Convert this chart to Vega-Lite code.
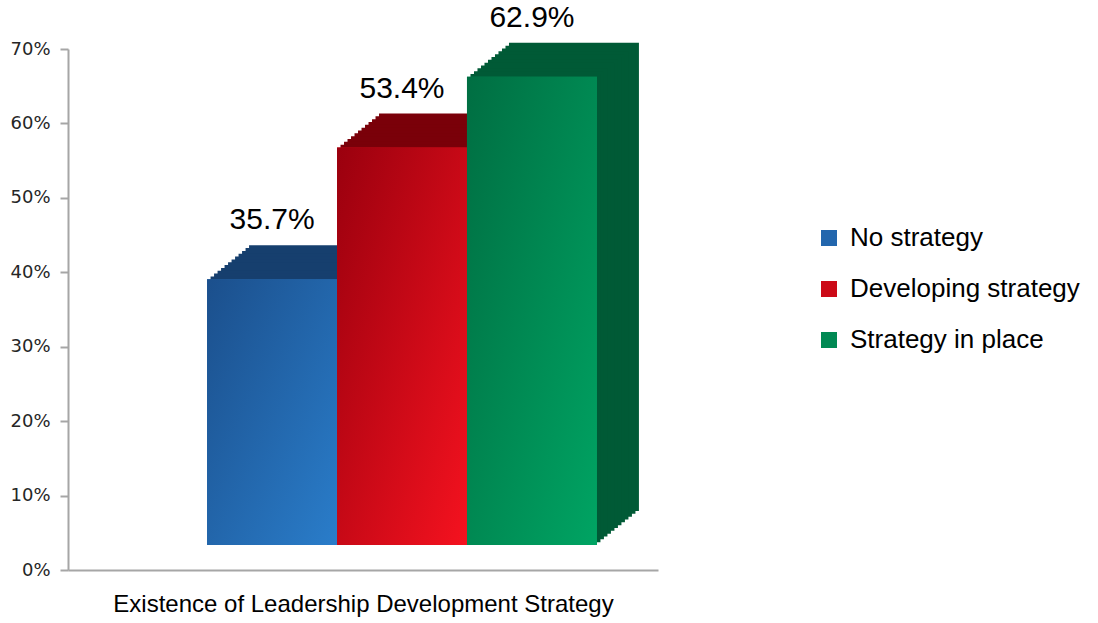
{
  "$schema": "https://vega.github.io/schema/vega-lite/v6.json",
  "autosize": "none",
  "width": 590,
  "height": 521,
  "padding": {"left": 68, "top": 49, "right": 440, "bottom": 53},
  "background": "white",
  "config": {"view": {"stroke": null}, "font": "Liberation Sans"},
  "data": {"values": [
    {"series": "No strategy", "value": 0.357},
    {"series": "Developing strategy", "value": 0.534},
    {"series": "Strategy in place", "value": 0.629}
  ]},
  "encoding": {
    "x": {"field": "series", "type": "nominal", "sort": ["No strategy", "Developing strategy", "Strategy in place"],
      "scale": {"paddingInner": 0, "paddingOuter": 0.77},
      "axis": {"title": "Existence of Leadership Development Strategy", "labels": false, "ticks": false, "domainColor": "#a6a6a6", "domainWidth": 2, "titleFont": "Liberation Sans", "titleFontSize": 24, "titleFontWeight": "normal", "titleColor": "#000000", "titlePadding": 22}},
    "y": {"field": "value", "type": "quantitative",
      "scale": {"domain": [0, 0.7], "nice": false},
      "axis": {"title": null, "values": [0, 0.1, 0.2, 0.3, 0.4, 0.5, 0.6, 0.7], "format": ".0%", "grid": false, "domainColor": "#a6a6a6", "domainWidth": 2, "tickColor": "#a6a6a6", "tickWidth": 2, "tickSize": 8, "labelPadding": 10, "labelFont": "DejaVu Sans", "labelFontSize": 18, "labelColor": "#262626"}}
  },
  "layer": [
    {"mark": {"type": "bar", "xOffset": 81, "x2Offset": 81, "yOffset": -59, "y2Offset": -59},
     "encoding": {"color": {"field": "series", "type": "nominal", "sort": ["No strategy", "Developing strategy", "Strategy in place"], "scale": {"range": ["#163f6e", "#7a0009", "#005a36"]}, "legend": null}}},
    {"mark": {"type": "bar", "xOffset": 77.5, "x2Offset": 77.5, "yOffset": -56.2, "y2Offset": -56.2},
     "encoding": {"color": {"field": "series", "type": "nominal", "sort": ["No strategy", "Developing strategy", "Strategy in place"], "scale": {"range": ["#163f6e", "#7a0009", "#005a36"]}, "legend": null}}},
    {"mark": {"type": "bar", "xOffset": 74, "x2Offset": 74, "yOffset": -53.3, "y2Offset": -53.3},
     "encoding": {"color": {"field": "series", "type": "nominal", "sort": ["No strategy", "Developing strategy", "Strategy in place"], "scale": {"range": ["#163f6e", "#7a0009", "#005a36"]}, "legend": null}}},
    {"mark": {"type": "bar", "xOffset": 70.5, "x2Offset": 70.5, "yOffset": -50.5, "y2Offset": -50.5},
     "encoding": {"color": {"field": "series", "type": "nominal", "sort": ["No strategy", "Developing strategy", "Strategy in place"], "scale": {"range": ["#163f6e", "#7a0009", "#005a36"]}, "legend": null}}},
    {"mark": {"type": "bar", "xOffset": 67, "x2Offset": 67, "yOffset": -47.7, "y2Offset": -47.7},
     "encoding": {"color": {"field": "series", "type": "nominal", "sort": ["No strategy", "Developing strategy", "Strategy in place"], "scale": {"range": ["#163f6e", "#7a0009", "#005a36"]}, "legend": null}}},
    {"mark": {"type": "bar", "xOffset": 63.5, "x2Offset": 63.5, "yOffset": -44.8, "y2Offset": -44.8},
     "encoding": {"color": {"field": "series", "type": "nominal", "sort": ["No strategy", "Developing strategy", "Strategy in place"], "scale": {"range": ["#163f6e", "#7a0009", "#005a36"]}, "legend": null}}},
    {"mark": {"type": "bar", "xOffset": 60, "x2Offset": 60, "yOffset": -42, "y2Offset": -42},
     "encoding": {"color": {"field": "series", "type": "nominal", "sort": ["No strategy", "Developing strategy", "Strategy in place"], "scale": {"range": ["#163f6e", "#7a0009", "#005a36"]}, "legend": null}}},
    {"mark": {"type": "bar", "xOffset": 56.5, "x2Offset": 56.5, "yOffset": -39.2, "y2Offset": -39.2},
     "encoding": {"color": {"field": "series", "type": "nominal", "sort": ["No strategy", "Developing strategy", "Strategy in place"], "scale": {"range": ["#163f6e", "#7a0009", "#005a36"]}, "legend": null}}},
    {"mark": {"type": "bar", "xOffset": 53, "x2Offset": 53, "yOffset": -36.3, "y2Offset": -36.3},
     "encoding": {"color": {"field": "series", "type": "nominal", "sort": ["No strategy", "Developing strategy", "Strategy in place"], "scale": {"range": ["#163f6e", "#7a0009", "#005a36"]}, "legend": null}}},
    {"mark": {"type": "bar", "xOffset": 49.5, "x2Offset": 49.5, "yOffset": -33.5, "y2Offset": -33.5},
     "encoding": {"color": {"field": "series", "type": "nominal", "sort": ["No strategy", "Developing strategy", "Strategy in place"], "scale": {"range": ["#163f6e", "#7a0009", "#005a36"]}, "legend": null}}},
    {"mark": {"type": "bar", "xOffset": 46, "x2Offset": 46, "yOffset": -30.7, "y2Offset": -30.7},
     "encoding": {"color": {"field": "series", "type": "nominal", "sort": ["No strategy", "Developing strategy", "Strategy in place"], "scale": {"range": ["#163f6e", "#7a0009", "#005a36"]}, "legend": null}}},
    {"mark": {"type": "bar", "xOffset": 42.5, "x2Offset": 42.5, "yOffset": -27.8, "y2Offset": -27.8},
     "encoding": {"color": {"field": "series", "type": "nominal", "sort": ["No strategy", "Developing strategy", "Strategy in place"], "scale": {"range": ["#163f6e", "#7a0009", "#005a36"]}, "legend": null}}},
    {"mark": {"type": "bar", "xOffset": 39, "x2Offset": 39, "yOffset": -25, "y2Offset": -25},
     "encoding": {"color": {"field": "series", "type": "nominal", "sort": ["No strategy", "Developing strategy", "Strategy in place"],
       "scale": {"range": ["#2266ad", "#cc0a17", "#008953"]},
       "legend": {"title": null, "orient": "none", "legendX": 748, "legendY": 176, "symbolType": "square", "symbolSize": 256, "symbolStrokeWidth": 0, "symbolOpacity": 1, "labelFont": "Liberation Sans", "labelFontSize": 26, "labelColor": "#000000", "labelOffset": 8, "rowPadding": 25, "labelLimit": 400}}}},
    {"transform": [{"filter": "datum.series === 'No strategy'"}],
     "mark": {"type": "bar", "xOffset": 39, "x2Offset": 39, "yOffset": -25, "y2Offset": -25,
       "color": {"gradient": "linear", "x1": 0, "y1": 0, "x2": 1, "y2": 1, "stops": [{"offset": 0, "color": "#1b4f8c"}, {"offset": 1, "color": "#2a7dca"}]}}},
    {"transform": [{"filter": "datum.series === 'Developing strategy'"}],
     "mark": {"type": "bar", "xOffset": 39, "x2Offset": 39, "yOffset": -25, "y2Offset": -25,
       "color": {"gradient": "linear", "x1": 0, "y1": 0, "x2": 1, "y2": 1, "stops": [{"offset": 0, "color": "#9a000e"}, {"offset": 1, "color": "#f5121f"}]}}},
    {"transform": [{"filter": "datum.series === 'Strategy in place'"}],
     "mark": {"type": "bar", "xOffset": 39, "x2Offset": 39, "yOffset": -25, "y2Offset": -25,
       "color": {"gradient": "linear", "x1": 0, "y1": 0, "x2": 1, "y2": 1, "stops": [{"offset": 0, "color": "#006e42"}, {"offset": 1, "color": "#00a463"}]}}},
    {"mark": {"type": "text", "dx": 39, "dy": -75, "baseline": "alphabetic", "fontSize": 30, "font": "Liberation Sans", "color": "#000000"},
     "encoding": {"text": {"field": "value", "type": "quantitative", "format": ".1%"}}}
  ],
  "resolve": {"scale": {"color": "independent"}}
}
